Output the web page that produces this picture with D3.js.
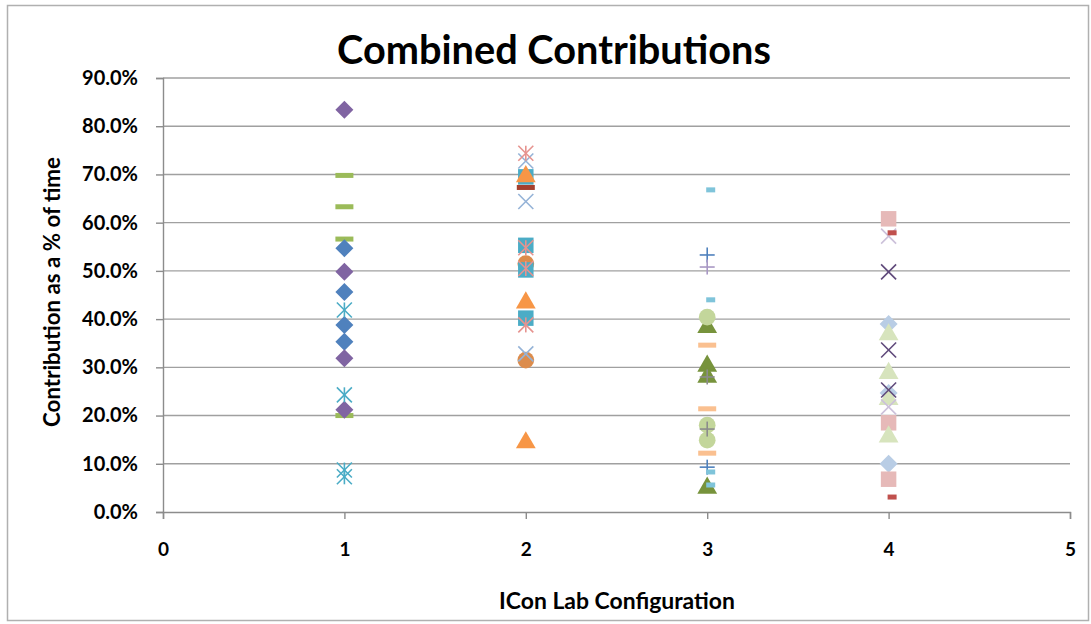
<!DOCTYPE html>
<html><head><meta charset="utf-8">
<script src="https://cdn.jsdelivr.net/npm/d3@7"></script>
<style>body{margin:0;background:#fff}svg{display:block}</style>
</head><body>
<svg id="c" width="1091" height="624"></svg>
<script>
const title = "Combined Contributions";
const xTitle = "ICon Lab Configuration";
const yTitle = "Contribution as a % of time";
const xTicks = [0, 1, 2, 3, 4, 5];
const yTicks = [0, 0.1, 0.2, 0.3, 0.4, 0.5, 0.6, 0.7, 0.8, 0.9];

// each series: configuration x, values (fraction of time), marker, colour
const s1 = {x: 1, v: [0.698, 0.633, 0.566, 0.200], m: "dash", c: "#9BBB59"};
const s2 = {x: 1, v: [0.547, 0.456, 0.388, 0.353], m: "diamond", c: "#4F81BD"};
const s3 = {x: 1, v: [0.834, 0.498, 0.319, 0.212], m: "diamond", c: "#8064A2"};
const s4 = {x: 1, v: [0.419, 0.243, 0.087, 0.073], m: "star", c: "#4BACC6"};
const s5 = {x: 2, v: [0.515, 0.315], m: "circle", c: "#DC8C4C"};
const s6 = {x: 2, v: [0.728, 0.644, 0.328], m: "x", c: "#95B3D7"};
const s7 = {x: 2, v: [0.695, 0.553, 0.502, 0.402], m: "square", c: "#4BACC6"};
const s8 = {x: 2, v: [0.698, 0.436, 0.146], m: "triangle", c: "#F79646"};
const s9 = {x: 2, v: [0.673], m: "dash", c: "#A5402D"};
const s10 = {x: 2, v: [0.744, 0.548, 0.505, 0.388], m: "star", c: "#E6938F"};
const s11 = {x: 3, v: [0.385, 0.305, 0.282, 0.052], m: "triangle", c: "#77933C"};
const s12 = {x: 3, v: [0.404, 0.180, 0.149], m: "circle", c: "#C3D69B"};
const s13 = {x: 3, v: [0.346, 0.214, 0.122], m: "dash", c: "#FAC090"};
const s14 = {x: 3, v: [0.280, 0.172], m: "plus", c: "#8C8C8C"};
const s15 = {x: 3, v: [0.533, 0.093], m: "plus", c: "#4F81BD"};
const s16 = {x: 3, v: [0.508], m: "plus", c: "#A897C4"};
const s17 = {x: 3, v: [0.668, 0.440, 0.083, 0.056], m: "sdash", c: "#7FC4DA"};
const s18 = {x: 4, v: [0.390, 0.247, 0.100], m: "diamond", c: "#B9CDE5"};
const s19 = {x: 4, v: [0.608, 0.185, 0.068], m: "square", c: "#E6B9B8"};
const s20 = {x: 4, v: [0.370, 0.290, 0.236, 0.158], m: "triangle", c: "#D7E4BD"};
const s21 = {x: 4, v: [0.572, 0.218], m: "x", c: "#CCC1DA"};
const s22 = {x: 4, v: [0.498, 0.336, 0.253], m: "x", c: "#604A7B"};
const s23 = {x: 4, v: [0.579, 0.031], m: "sdash", c: "#C0504D"};
const series = [s1,s2,s3,s4,s5,s6,s7,s8,s9,s10,s11,s12,s13,s14,s15,s16,s17,s18,s19,s20,s21,s22,s23];

const svg = d3.select("#c");
const font = "Lato, 'Open Sans', sans-serif";
const x = d3.scaleLinear().domain([0, 5]).range([163, 1070]);
const y = d3.scaleLinear().domain([0, 0.9]).range([512, 78]);

svg.append("rect").attr("x", 7.5).attr("y", 5.5).attr("width", 1081).attr("height", 615)
  .attr("fill", "#fff").attr("stroke", "#B0B0B0").attr("stroke-width", 1.5);

// gridlines
svg.append("g").selectAll("line").data(yTicks.filter(d => d > 0)).join("line")
  .attr("x1", x(0)).attr("x2", x(5)).attr("y1", d => y(d)).attr("y2", d => y(d))
  .attr("stroke", "#A0A0A0").attr("stroke-width", 1.4);

const gy = svg.append("g").attr("transform", `translate(${x(0)},0)`)
  .call(d3.axisLeft(y).tickValues(yTicks).tickFormat(d3.format(".1%")).tickSize(7).tickPadding(18));
const gx = svg.append("g").attr("transform", `translate(0,${y(0)})`)
  .call(d3.axisBottom(x).tickValues(xTicks).tickFormat(d3.format("d")).tickSize(7).tickPadding(24));
[gy, gx].forEach(g => {
  g.attr("font-size", null).attr("font-family", null);
  g.selectAll(".domain").attr("stroke", "#8C8C8C").attr("stroke-width", 1.4);
  g.selectAll(".tick line").attr("stroke", "#8C8C8C").attr("stroke-width", 1.4);
  g.selectAll("text").attr("font-family", font).attr("font-weight", "bold")
    .attr("font-size", 20).attr("fill", "#000");
});
gx.selectAll("text").attr("font-size", 19);

// markers
const sym = {
  square: d3.symbol().type(d3.symbolSquare).size(240),
  triangle: d3.symbol().type(d3.symbolTriangle).size(170),
  circle: d3.symbol().type(d3.symbolCircle).size(220)
};
series.forEach(s => {
  const g = svg.append("g");
  s.v.forEach(v => {
    const cx = x(s.x), cy = y(v);
    const t = g.append("g").attr("transform", `translate(${cx},${cy})`);
    if (s.m === "diamond") {
      t.append("path").attr("d", "M0,-9L9,0L0,9L-9,0Z").attr("fill", s.c);
    } else if (sym[s.m]) {
      t.append("path").attr("d", sym[s.m]()).attr("fill", s.c)
        .attr("transform", s.m === "triangle" ? "translate(0,1)" : null);
    } else if (s.m === "dash") {
      t.append("rect").attr("x", -9).attr("y", -2.5).attr("width", 18).attr("height", 5).attr("fill", s.c);
    } else if (s.m === "sdash") {
      t.append("rect").attr("x", -1).attr("y", -2.5).attr("width", 9).attr("height", 5).attr("fill", s.c);
    } else {
      const r = 7.5;
      const lines = [];
      if (s.m === "x" || s.m === "star") lines.push([-r, -r, r, r], [-r, r, r, -r]);
      if (s.m === "star") lines.push([0, -r, 0, r]);
      if (s.m === "plus") lines.push([-r, 0, r, 0], [0, -r, 0, r]);
      lines.forEach(l => t.append("line").attr("x1", l[0]).attr("y1", l[1]).attr("x2", l[2]).attr("y2", l[3])
        .attr("stroke", s.c).attr("stroke-width", 1.6));
    }
  });
});

// titles
function fit(sel, w) {
  const len = sel.node().getComputedTextLength();
  const fs = parseFloat(sel.attr("font-size"));
  sel.attr("font-size", fs * w / len);
}
const tt = svg.append("text").attr("x", 554).attr("y", 64).attr("text-anchor", "middle")
  .attr("font-family", font).attr("font-weight", "bold").attr("font-size", 32).text(title);
fit(tt, 434);
const xt = svg.append("text").attr("x", 617).attr("y", 609).attr("text-anchor", "middle")
  .attr("font-family", font).attr("font-weight", "bold").attr("font-size", 16).text(xTitle);
fit(xt, 236);
const yt = svg.append("text").attr("transform", "translate(60,292) rotate(-90)").attr("text-anchor", "middle")
  .attr("font-family", font).attr("font-weight", "bold").attr("font-size", 16).text(yTitle);
fit(yt, 270);
</script>
</body></html>
